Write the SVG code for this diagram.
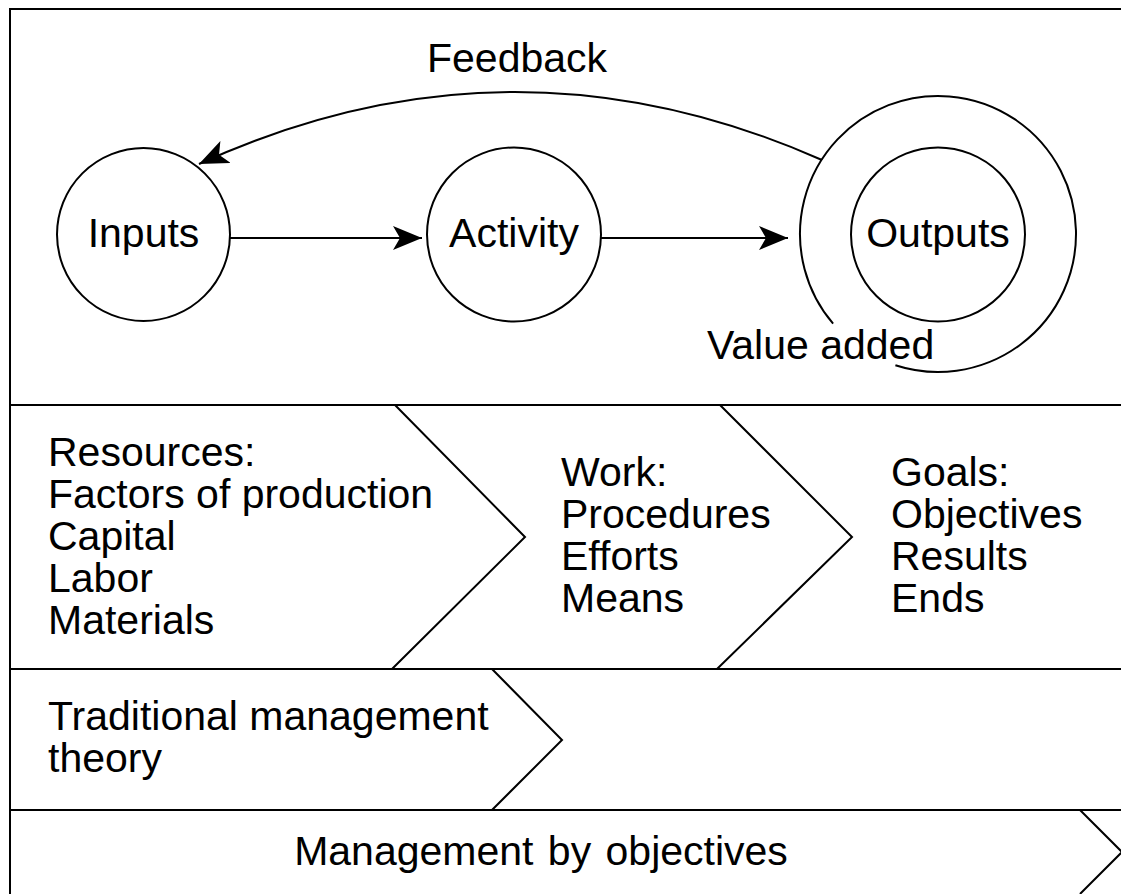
<svg xmlns="http://www.w3.org/2000/svg" width="1121" height="894" viewBox="0 0 1121 894">
<defs>
<style>
.ln{fill:none;stroke:#000;stroke-width:2}
.t{font-family:"Liberation Sans",Arial,sans-serif;font-size:41px;fill:#000}
.m{text-anchor:middle}
</style>
<marker id="ah" markerUnits="userSpaceOnUse" markerWidth="30" markerHeight="26" refX="29" refY="12" orient="auto" viewBox="0 0 30 26">
<path d="M0,0 L29,12 L0,24 L7,12 Z" fill="#000"/>
</marker>
</defs>
<rect width="1121" height="894" fill="#fff"/>
<g id="frame">
<path class="ln" d="M1121,9 H10 V894"/>
<path class="ln" d="M10,405 H1121 M10,669 H1121 M10,810 H1121"/>
</g>
<g id="inputs">
<circle class="ln" cx="143.5" cy="234.5" r="86.5"/>
<text class="t m" x="143.5" y="247">Inputs</text>
</g>
<g id="activity">
<circle class="ln" cx="514" cy="234.5" r="87"/>
<text class="t m" x="514" y="247">Activity</text>
</g>
<g id="outputs">
<circle class="ln" cx="938" cy="234.5" r="87"/>
<path class="ln" d="M895.4,365.2 A138,138 0 1 0 833.1,323.6"/>
<text class="t m" x="938" y="247">Outputs</text>
<text class="t" x="707" y="359">Value added</text>
</g>
<g id="connectors">
<path class="ln" d="M230,238 H422" marker-end="url(#ah)"/>
<path class="ln" d="M601,238 H788" marker-end="url(#ah)"/>
<path class="ln" d="M822,160 Q510,22 199,164" marker-end="url(#ah)"/>
<text class="t" x="427" y="72">Feedback</text>
</g>
<g id="resources">
<path class="ln" d="M395,405 L525,537 L392,669"/>
<text class="t" x="48" y="466">Resources:</text>
<text class="t" x="48" y="508">Factors of production</text>
<text class="t" x="48" y="550">Capital</text>
<text class="t" x="48" y="592">Labor</text>
<text class="t" x="48" y="634">Materials</text>
</g>
<g id="work">
<path class="ln" d="M720,405 L852,537 L717,669"/>
<text class="t" x="561" y="486">Work:</text>
<text class="t" x="561" y="528">Procedures</text>
<text class="t" x="561" y="570">Efforts</text>
<text class="t" x="561" y="612">Means</text>
</g>
<g id="goals">
<text class="t" x="891" y="486">Goals:</text>
<text class="t" x="891" y="528">Objectives</text>
<text class="t" x="891" y="570">Results</text>
<text class="t" x="891" y="612">Ends</text>
</g>
<g id="traditional">
<path class="ln" d="M492,669 L562,740 L492,810"/>
<text class="t" x="48" y="730">Traditional management</text>
<text class="t" x="48" y="772">theory</text>
</g>
<g id="mbo">
<path class="ln" d="M1080,810 L1122,852 L1080,894"/>
<text class="t m" x="541" y="865" word-spacing="3">Management by objectives</text>
</g>
</svg>
